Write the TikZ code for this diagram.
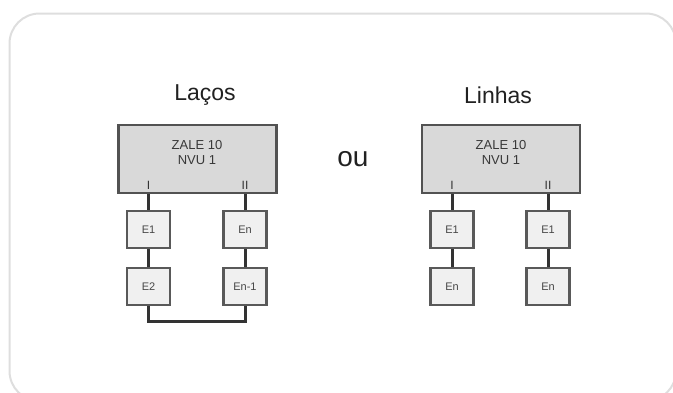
\documentclass[tikz,border=0pt]{standalone}
\usepackage{fontspec}
\setmainfont{Liberation Sans}
\begin{document}
\begin{tikzpicture}[x=1pt,y=-1pt,
  frame/.style={draw=black!13,line width=2pt,rounded corners=30pt},
  mainbox/.style={draw=black!68,fill=black!15,line width=2.3pt,minimum width=158pt,minimum height=68pt,inner sep=0pt},
  elbox/.style={draw=black!65,fill=black!6,line width=2.3pt,minimum width=43pt,minimum height=37pt,inner sep=0pt,font=\fontsize{11}{12}\selectfont,text=black!72},
  title/.style={font=\fontsize{23}{27}\selectfont,text=black!87},
  boxtext/.style={font=\fontsize{13}{15}\selectfont,text=black!78,align=center,inner sep=0pt},
  port/.style={font=\fontsize{12}{12}\selectfont,text=black!80,inner sep=0pt},
  wire/.style={draw=black!80,line width=3pt}]
\useasboundingbox (0,0) rectangle (673,392);
\draw[frame] (9.5,13.5) rectangle (676,401);
% titles
\node[title] (tl) at (205,95) {Laços};
\node[title] (tr) at (498,95) {Linhas};
\node[font=\fontsize{28}{30}\selectfont,text=black!87] (ou) at (353,159) {ou};
% main boxes
\node[mainbox] (zl) at (197.5,159) {};
\node[mainbox] (zr) at (501,159) {};
\node[boxtext] (tzl) at (197,152.5) {ZALE 10\\NVU 1};
\node[boxtext] (tzr) at (501,152.5) {ZALE 10\\NVU 1};
% element boxes left
\node[elbox] (e1) at (148.5,229.5) {E1};
\node[elbox] (e2) at (148.5,286.5) {E2};
\node[elbox] (en) at (245,229.5) {En};
\node[elbox] (en1) at (245,286.5) {En-1};
% element boxes right
\node[elbox] (r1) at (452,229.5) {E1};
\node[elbox] (r2) at (452,286.5) {En};
\node[elbox] (s1) at (548,229.5) {E1};
\node[elbox] (s2) at (548,286.5) {En};
% ports
\node[port] (pl1) at (148.5,185) {I};
\node[port] (pl2) at (245,185) {II};
\node[port] (pr1) at (452,185) {I};
\node[port] (pr2) at (548,185) {II};
\coordinate (loopy) at (0,321);
% wires
\draw[wire] (pl1.south |- zl.south) -- (e1.north);
\draw[wire] (pl2.south |- zl.south) -- (en.north);
\draw[wire] (e1.south) -- (e2.north);
\draw[wire] (en.south) -- (en1.north);
\draw[wire] (e2.south) -- (e2.south |- loopy) -- (en1.south |- loopy) -- (en1.south);
\draw[wire] (pr1.south |- zr.south) -- (r1.north);
\draw[wire] (pr2.south |- zr.south) -- (s1.north);
\draw[wire] (r1.south) -- (r2.north);
\draw[wire] (s1.south) -- (s2.north);
\end{tikzpicture}
\end{document}
